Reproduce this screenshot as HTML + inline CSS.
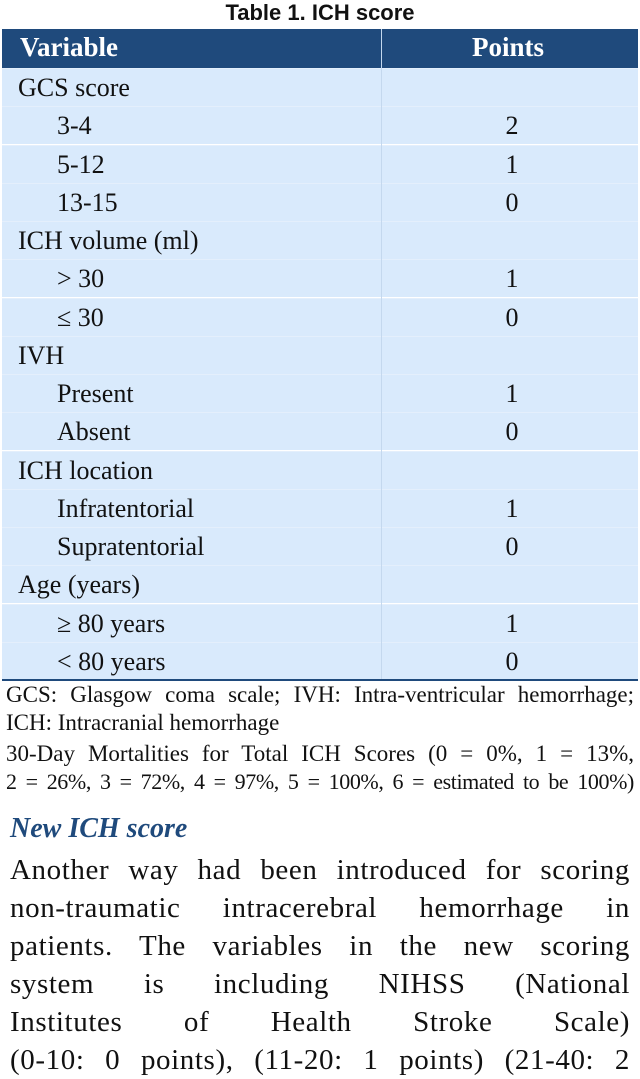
<!DOCTYPE html>
<html><head><meta charset="utf-8"><style>
body{margin:0;width:640px;height:1070px;overflow:hidden;background:#fff;position:relative;font-family:"Liberation Serif",serif;color:#111}
.title{position:absolute;left:0;top:0;width:640px;text-align:center;font:bold 22px/26px "Liberation Sans",sans-serif}
.hdr{position:absolute;left:2px;top:29px;width:636px;height:39px;background:#1f4a7c;color:#fff;font-weight:bold;font-size:27px}
.hdr span{position:absolute;top:3px}
.row{position:absolute;left:2px;width:636px;height:38px;background:#d9eafc;border-top:1px solid #e4effc;font-size:26px;line-height:37px;box-sizing:border-box}
.row .v{position:absolute;left:16px}
.row .v.i{left:55px}
.row .p{position:absolute;left:490px;width:40px;text-align:center}
.div{position:absolute;left:381px;top:29px;width:1px;height:651px;background:#c4d8ee}
.fn{position:absolute;left:6px;width:628px;font-size:22px;line-height:28px;text-align:justify;text-align-last:justify;white-space:nowrap}
.h2{position:absolute;left:10px;top:813px;font-size:28px;font-style:italic;font-weight:bold;color:#1f4a7c}
.bl{position:absolute;left:10px;width:620px;font-size:29px;letter-spacing:0.6px;line-height:38px;text-align:justify;text-align-last:justify;white-space:nowrap}
</style></head><body>
<div class="title">Table 1. ICH score</div>
<div class="hdr"><span style="left:18px">Variable</span><span style="left:470px">Points</span></div>
<div id="rows"></div>
<div class="div"></div>
<div style="position:absolute;left:2px;top:679px;width:636px;height:2px;background:#1f4a7c"></div>
<div class="fn" style="top:681px;font-size:23px">GCS: Glasgow coma scale; IVH: Intra-ventricular hemorrhage;</div>
<div class="fn" style="top:709px;text-align-last:left;font-size:23px">ICH: Intracranial hemorrhage</div>
<div class="fn" style="top:740px;font-size:23px">30-Day Mortalities for Total ICH Scores (0 = 0%, 1 = 13%,</div>
<div class="fn" style="top:768px;letter-spacing:-0.4px">2 = 26%, 3 = 72%, 4 = 97%, 5 = 100%, 6 = estimated to be 100%)</div>
<div class="h2">New ICH score</div>
<div class="bl" style="top:851px">Another way had been introduced for scoring</div>
<div class="bl" style="top:889px">non-traumatic intracerebral hemorrhage in</div>
<div class="bl" style="top:927px">patients. The variables in the new scoring</div>
<div class="bl" style="top:965px">system is including NIHSS (National</div>
<div class="bl" style="top:1003px">Institutes of Health Stroke Scale)</div>
<div class="bl" style="top:1041px">(0-10: 0 points), (11-20: 1 points) (21-40: 2</div>
<script>
const labels=["GCS score","3-4","5-12","13-15","ICH volume (ml)","> 30","≤ 30","IVH","Present","Absent","ICH location","Infratentorial","Supratentorial","Age (years)","≥ 80 years","< 80 years"];
const points=["","2","1","0","","1","0","","1","0","","1","0","","1","0"];
const indent=[0,1,1,1,0,1,1,0,1,1,0,1,1,0,1,1];
const c=document.getElementById('rows');
labels.forEach((l,i)=>{
  const r=document.createElement('div');
  r.className='row';
  r.style.top=(68+i*38.25)+'px';
  
  
  const v=document.createElement('span');
  v.className='v'+(indent[i]?' i':'');
  v.textContent=l;
  
  
  const p=document.createElement('span');
  p.className='p';
  p.textContent=points[i];
  
  
  r.appendChild(v);r.appendChild(p);c.appendChild(r);
});
</script>
</body></html>
